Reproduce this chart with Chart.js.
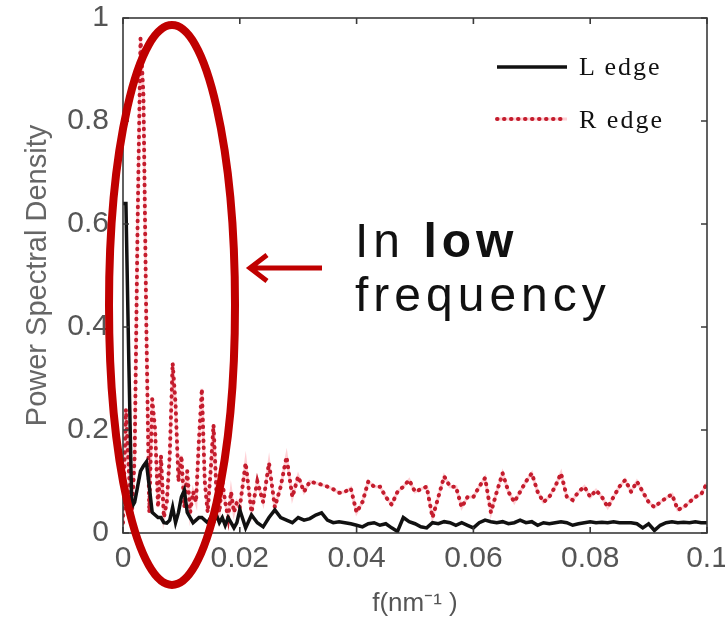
<!DOCTYPE html>
<html>
<head>
<meta charset="utf-8">
<script src="https://cdn.jsdelivr.net/npm/chart.js@4/dist/chart.umd.min.js"></script>
<style>
  html, body { margin: 0; padding: 0; background: #fff; }
  #wrap { position: relative; width: 725px; height: 629px; }
  #chart { position: absolute; left: 0; top: 0; }
  .note { position: absolute; font-family: 'Liberation Sans', Arial, sans-serif; font-size: 48px; line-height: 48px; letter-spacing: 5px; color: #111; white-space: nowrap; }
  .key { position: absolute; font-family: 'Liberation Serif', 'DejaVu Serif', serif; font-size: 26px; line-height: 26px; letter-spacing: 2px; color: #111; white-space: nowrap; }
</style>
</head>
<body>
<div id="wrap">
  <canvas id="chart" width="725" height="629"></canvas>
  <div class="key" style="left:579px; top:54px;">L edge</div>
  <div class="key" style="left:579px; top:107px;">R edge</div>
  <div class="note" style="left:355px; top:217px;">In <b>low</b></div>
  <div class="note" style="left:355px; top:271px;">frequency</div>
</div>
<script>
// spatial frequency samples (nm^-1): finer near 0, then every 0.001
const freq = [
  0, 0.0005, 0.001, 0.0015, 0.002, 0.0025, 0.003, 0.0035, 0.004, 0.0045,
  0.005, 0.0055, 0.006, 0.0065, 0.007, 0.0075, 0.008, 0.0085, 0.009, 0.0095,
  0.01, 0.0105, 0.011, 0.0115, 0.012, 0.0125, 0.013, 0.0135, 0.014, 0.0145,
  0.015, 0.0155, 0.016, 0.0165, 0.017, 0.0175, 0.018, 0.0185, 0.019, 0.0195,
  0.02, 0.021, 0.022, 0.023, 0.024, 0.025, 0.026, 0.027, 0.028, 0.029,
  0.03, 0.031, 0.032, 0.033, 0.034, 0.035, 0.036, 0.037, 0.038, 0.039,
  0.04, 0.041, 0.042, 0.043, 0.044, 0.045, 0.046, 0.047, 0.048, 0.049,
  0.05, 0.051, 0.052, 0.053, 0.054, 0.055, 0.056, 0.057, 0.058, 0.059,
  0.06, 0.061, 0.062, 0.063, 0.064, 0.065, 0.066, 0.067, 0.068, 0.069,
  0.07, 0.071, 0.072, 0.073, 0.074, 0.075, 0.076, 0.077, 0.078, 0.079,
  0.08, 0.081, 0.082, 0.083, 0.084, 0.085, 0.086, 0.087, 0.088, 0.089,
  0.09, 0.091, 0.092, 0.093, 0.094, 0.095, 0.096, 0.097, 0.098, 0.099, 0.1
];

const lEdge = [
  0.64, 0.64, 0.33, 0.05, 0.06, 0.09, 0.12, 0.13, 0.138, 0.09,
  0.04, 0.035, 0.03, 0.03, 0.02, 0.019, 0.025, 0.05, 0.02, 0.04,
  0.07, 0.083, 0.04, 0.03, 0.02, 0.025, 0.03, 0.03, 0.025, 0.02,
  0.03, 0.02, 0.035, 0.02, 0.03, 0.015, 0.03, 0.02, 0.01, 0.02,
  0.045, 0.01, 0.035, 0.02, 0.012, 0.03, 0.045, 0.03, 0.025, 0.02,
  0.03, 0.025, 0.028, 0.035, 0.039, 0.025, 0.02, 0.022, 0.02, 0.018,
  0.015, 0.012, 0.018, 0.02, 0.015, 0.018, 0.01, 0.003, 0.03, 0.022,
  0.018, 0.012, 0.01, 0.02, 0.018, 0.022, 0.02, 0.015, 0.02, 0.015,
  0.01, 0.02, 0.025, 0.022, 0.02, 0.022, 0.018, 0.02, 0.025, 0.02,
  0.022, 0.015, 0.02, 0.018, 0.02, 0.022, 0.02, 0.015, 0.018, 0.02,
  0.022, 0.02, 0.021, 0.02, 0.022, 0.02, 0.02, 0.02, 0.018, 0.01,
  0.018, 0.005, 0.015, 0.02, 0.022, 0.02, 0.021, 0.02, 0.022, 0.02, 0.02
];

const rEdge = [
  0.02, 0.24, 0.12, 0.03, 0.15, 0.6, 0.96, 0.85, 0.4, 0.04,
  0.26, 0.2, 0.05, 0.15, 0.03, 0.06, 0.15, 0.33, 0.25, 0.1,
  0.15, 0.05, 0.12, 0.04, 0.08, 0.06, 0.18, 0.28, 0.1, 0.04,
  0.12, 0.21, 0.08, 0.04, 0.1, 0.06, 0.03, 0.08, 0.04, 0.06,
  0.05, 0.136, 0.04, 0.1, 0.06, 0.136, 0.05, 0.09, 0.148, 0.07,
  0.11, 0.08, 0.1, 0.097, 0.094, 0.09, 0.085, 0.078, 0.08, 0.087,
  0.04, 0.06, 0.1, 0.09, 0.09, 0.07, 0.055, 0.08, 0.09, 0.103,
  0.08, 0.085, 0.09, 0.03, 0.07, 0.11, 0.09, 0.09, 0.05, 0.07,
  0.07, 0.09, 0.107, 0.04, 0.08, 0.116, 0.08, 0.06, 0.08, 0.1,
  0.116, 0.08, 0.06, 0.07, 0.09, 0.116, 0.07, 0.064, 0.08, 0.09,
  0.07, 0.083, 0.07, 0.05, 0.07, 0.09, 0.103, 0.08, 0.1, 0.08,
  0.06, 0.05, 0.06, 0.068, 0.075, 0.045, 0.05, 0.06, 0.07, 0.075, 0.097
];

const seriesNames = ['L edge', 'R edge'];
const xTitle = 'f(nm\u207B\u00B9 )';
const yTitle = 'Power Spectral Density';

const AXIS_FONT = "'Liberation Sans', Arial, sans-serif";
const RED_DOT = 'rgb(196, 28, 45)';
const RED_HAZE = 'rgba(255, 120, 135, 0.35)';
const RED_DASH = [0.5, 6.5];

// box round the plot + inward tick marks on all four sides (matlab look)
const boxPlugin = {
  id: 'boxPlugin',
  afterDatasetsDraw(chart) {
    const { ctx, chartArea: a, scales: { x, y } } = chart;
    ctx.save();
    ctx.strokeStyle = '#3a3a3a';
    ctx.lineWidth = 1.6;
    ctx.strokeRect(a.left, a.top, a.right - a.left, a.bottom - a.top);
    ctx.beginPath();
    x.ticks.forEach(t => {
      const px = x.getPixelForValue(t.value);
      ctx.moveTo(px, a.bottom); ctx.lineTo(px, a.bottom - 6);
      ctx.moveTo(px, a.top); ctx.lineTo(px, a.top + 6);
    });
    y.ticks.forEach(t => {
      const py = y.getPixelForValue(t.value);
      ctx.moveTo(a.left, py); ctx.lineTo(a.left + 6, py);
      ctx.moveTo(a.right, py); ctx.lineTo(a.right - 6, py);
    });
    ctx.stroke();
    ctx.restore();
  },
  afterDraw(chart) {
    const ctx = chart.ctx;
    ctx.save();
    // legend samples
    ctx.lineWidth = 3.5;
    ctx.strokeStyle = '#111';
    ctx.beginPath(); ctx.moveTo(497, 67); ctx.lineTo(567, 67); ctx.stroke();
    ctx.strokeStyle = RED_HAZE;
    ctx.lineWidth = 3;
    ctx.beginPath(); ctx.moveTo(497, 119); ctx.lineTo(567, 119); ctx.stroke();
    ctx.strokeStyle = RED_DOT;
    ctx.lineWidth = 4;
    ctx.lineCap = 'round';
    ctx.setLineDash(RED_DASH);
    ctx.beginPath(); ctx.moveTo(497, 119); ctx.lineTo(567, 119); ctx.stroke();
    ctx.setLineDash([]);
    ctx.lineCap = 'butt';

    // highlight ellipse and arrow
    ctx.strokeStyle = '#c00000';
    ctx.lineWidth = 8;
    ctx.beginPath();
    ctx.ellipse(172, 305, 63, 280, 0, 0, Math.PI * 2);
    ctx.stroke();
    ctx.lineWidth = 5;
    ctx.beginPath();
    ctx.moveTo(322, 268); ctx.lineTo(252, 268);
    ctx.moveTo(267, 255); ctx.lineTo(250, 268); ctx.lineTo(267, 281);
    ctx.stroke();
    ctx.restore();
  }
};

const toPoints = vals => freq.map((f, i) => ({ x: f, y: vals[i] }));
const fmtTick = v => String(Number(v.toFixed(3)));

new Chart(document.getElementById('chart'), {
  type: 'line',
  data: {
    datasets: [
      {
        label: seriesNames[0],
        data: toPoints(lEdge),
        borderColor: '#111',
        borderWidth: 3.5,
        pointRadius: 0,
        tension: 0
      },
      {
        label: seriesNames[1],
        data: toPoints(rEdge),
        borderColor: RED_DOT,
        borderWidth: 4,
        borderDash: RED_DASH,
        borderCapStyle: 'round',
        pointRadius: 0,
        tension: 0
      },
      {
        // soft pink bleed under the dotted line
        label: seriesNames[1] + ' haze',
        data: toPoints(rEdge),
        borderColor: RED_HAZE,
        borderWidth: 3,
        pointRadius: 0,
        tension: 0
      }
    ]
  },
  options: {
    responsive: false,
    animation: false,
    layout: { padding: { top: 18, right: 18, left: 0, bottom: 0 } },
    plugins: {
      legend: { display: false },
      tooltip: { enabled: false }
    },
    scales: {
      x: {
        type: 'linear',
        min: 0,
        max: 0.1,
        grid: { display: false, drawTicks: false },
        border: { display: false },
        ticks: {
          stepSize: 0.02,
          maxRotation: 0,
          autoSkip: false,
          padding: 8,
          color: '#555',
          callback: fmtTick,
          font: { family: AXIS_FONT, size: 30 }
        },
        title: {
          display: true,
          text: xTitle,
          color: '#555',
          padding: { top: 10, bottom: 10 },
          font: { family: AXIS_FONT, size: 26 }
        },
        afterFit(scale) {
          scale.height = 96;
          scale.paddingLeft = 0;
          scale.paddingRight = 0;
        }
      },
      y: {
        min: 0,
        max: 1,
        grid: { display: false, drawTicks: false },
        border: { display: false },
        ticks: {
          stepSize: 0.2,
          padding: 14,
          color: '#555',
          callback: fmtTick,
          font: { family: AXIS_FONT, size: 30 }
        },
        title: {
          display: true,
          text: yTitle,
          color: '#666',
          padding: { top: 21, bottom: 21 },
          font: { family: AXIS_FONT, size: 29 }
        },
        afterFit(scale) {
          scale.width = 123;
          scale.paddingTop = 0;
          scale.paddingBottom = 0;
        }
      }
    }
  },
  plugins: [boxPlugin]
});
</script>
</body>
</html>
